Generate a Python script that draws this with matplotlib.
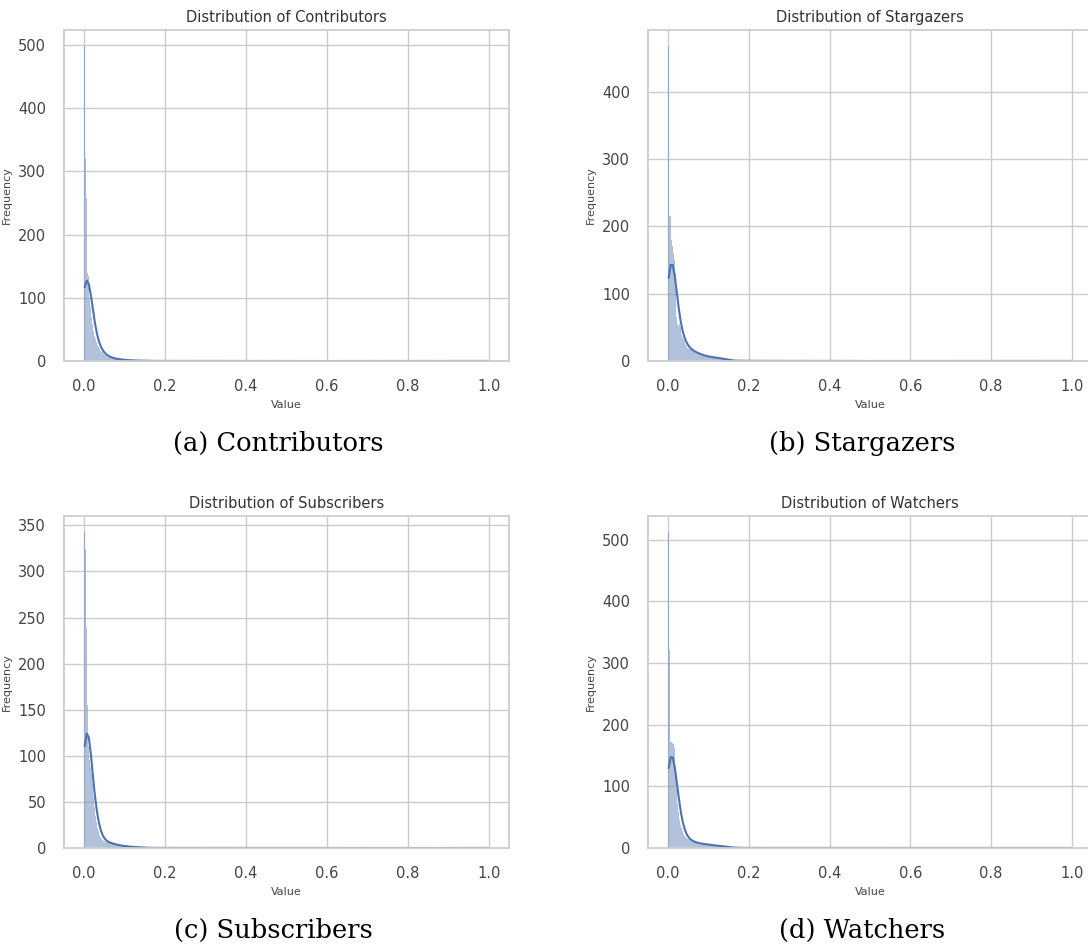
import numpy as np
import pandas as pd
import matplotlib
matplotlib.use("Agg")
import matplotlib.pyplot as plt
import seaborn as sns

BIN_WIDTH = 0.0025

# counts in the first 60 bins (0 .. 0.15)
contributors_head = [499, 322, 258, 140, 135, 100, 85, 70, 58, 48, 40, 35, 30, 26, 22, 19, 16, 14, 12, 11,
                     10, 9, 8, 7, 7, 6, 5, 5, 4, 4, 4, 3, 3, 3, 3, 2, 2, 2, 2, 2,
                     2, 1, 1, 1, 2, 1, 1, 1, 1, 1, 0, 1, 1, 0, 1, 0, 1, 1, 0, 1]
stargazers_head = [468, 216, 215, 180, 170, 160, 150, 130, 65, 55, 52, 55, 50, 38, 35, 32, 30, 24, 22, 20,
                   19, 18, 18, 17, 16, 14, 13, 12, 12, 12, 11, 11, 10, 10, 9, 8, 7, 7, 7, 7,
                   6, 6, 6, 6, 6, 5, 5, 5, 5, 5, 4, 4, 4, 4, 3, 3, 3, 3, 3, 3]
subscribers_head = [343, 324, 239, 155, 110, 95, 88, 80, 70, 55, 45, 35, 28, 22, 18, 14, 12, 10, 9, 8,
                    8, 7, 7, 6, 6, 6, 5, 5, 5, 4, 4, 4, 3, 3, 3, 3, 3, 2, 2, 2,
                    2, 2, 2, 2, 1, 2, 1, 1, 1, 1, 1, 1, 1, 0, 1, 1, 1, 0, 1, 1]
watchers_head = [513, 322, 172, 172, 170, 168, 162, 125, 95, 72, 58, 46, 38, 32, 27, 23, 20, 18, 17, 15,
                 14, 13, 12, 11, 10, 10, 9, 9, 8, 8, 8, 7, 7, 7, 7, 6, 6, 6, 6, 6,
                 5, 5, 5, 5, 5, 4, 4, 4, 4, 4, 3, 3, 3, 3, 3, 3, 2, 2, 2, 2]

# sparse tail beyond 0.15 (value, count)
contributors_tail_x = [0.16, 0.18, 0.20, 0.23, 0.26, 0.30, 0.35, 0.42, 0.55, 1.0]
contributors_tail_n = [1, 1, 1, 1, 1, 1, 1, 1, 1, 1]
stargazers_tail_x = [0.155, 0.165, 0.175, 0.19, 0.20, 0.21, 0.23, 0.25, 0.27, 0.29, 0.31, 0.33, 0.35,
                     0.38, 0.40, 0.42, 0.45, 0.6, 1.0]
stargazers_tail_n = [2, 2, 2, 2, 2, 1, 2, 1, 1, 1, 1, 1, 1, 1, 1, 1, 1, 1, 1]
subscribers_tail_x = [0.16, 0.18, 0.20, 0.22, 0.25, 0.28, 0.33, 0.40, 0.50, 1.0]
subscribers_tail_n = [1, 1, 1, 1, 1, 1, 1, 1, 1, 1]
watchers_tail_x = [0.155, 0.165, 0.175, 0.19, 0.21, 0.23, 0.25, 0.27, 0.29, 0.31, 0.35, 0.40, 0.45,
                   0.6, 1.0]
watchers_tail_n = [2, 2, 2, 1, 2, 1, 1, 1, 1, 1, 1, 1, 1, 1, 1]

NAMES = ["Contributors", "Stargazers", "Subscribers", "Watchers"]
CAPTIONS = ["(a) Contributors", "(b) Stargazers", "(c) Subscribers", "(d) Watchers"]
HEADS = [contributors_head, stargazers_head, subscribers_head, watchers_head]
TAILS = [(contributors_tail_x, contributors_tail_n), (stargazers_tail_x, stargazers_tail_n),
         (subscribers_tail_x, subscribers_tail_n), (watchers_tail_x, watchers_tail_n)]
KDE_BW = [0.5, 0.4, 0.45, 0.45]

W, H = 1088, 947
# axes boxes in pixels: left, top, width, height
BOXES = [(64, 30, 445, 331), (648, 30, 444, 331), (64, 516, 445, 332), (648, 516, 444, 332)]
CAPTION_POS = [(278, 443), (862, 443), (273, 930), (862, 930)]

sns.set_theme(style="whitegrid")
plt.rcParams["font.family"] = ["DejaVu Sans"]

fig = plt.figure(figsize=(W / 100, H / 100), dpi=100)

for name, caption, head, (tx, tn), bwa, box, cpos in zip(NAMES, CAPTIONS, HEADS, TAILS, KDE_BW,
                                                         BOXES, CAPTION_POS):
    left, top, bw, bh = box
    ax = fig.add_axes([left / W, (H - top - bh) / H, bw / W, bh / H])
    centers = (np.arange(len(head)) + 0.5) * BIN_WIDTH
    x = np.concatenate([centers, np.array(tx) - BIN_WIDTH / 2])
    w = np.concatenate([head, tn]).astype(float)
    df = pd.DataFrame({"value": x, "count": w})
    sns.histplot(data=df, x="value", weights="count", binwidth=BIN_WIDTH, binrange=(0, 1),
                 kde=True, kde_kws={"bw_adjust": bwa}, ax=ax)
    ax.set_title(f"Distribution of {name}", fontsize=10.5, color="#333333")
    ax.set_xlabel("Value", fontsize=8, color="#444444")
    ax.set_ylabel("Frequency", fontsize=8, color="#444444")
    ax.tick_params(labelsize=10.5, pad=7, labelcolor="#444444")
    fig.text(cpos[0] / W, 1 - cpos[1] / H, caption, ha="center", va="center",
             fontsize=18.5, family="DejaVu Serif", color="black")

fig.savefig("out.png", dpi=100)
